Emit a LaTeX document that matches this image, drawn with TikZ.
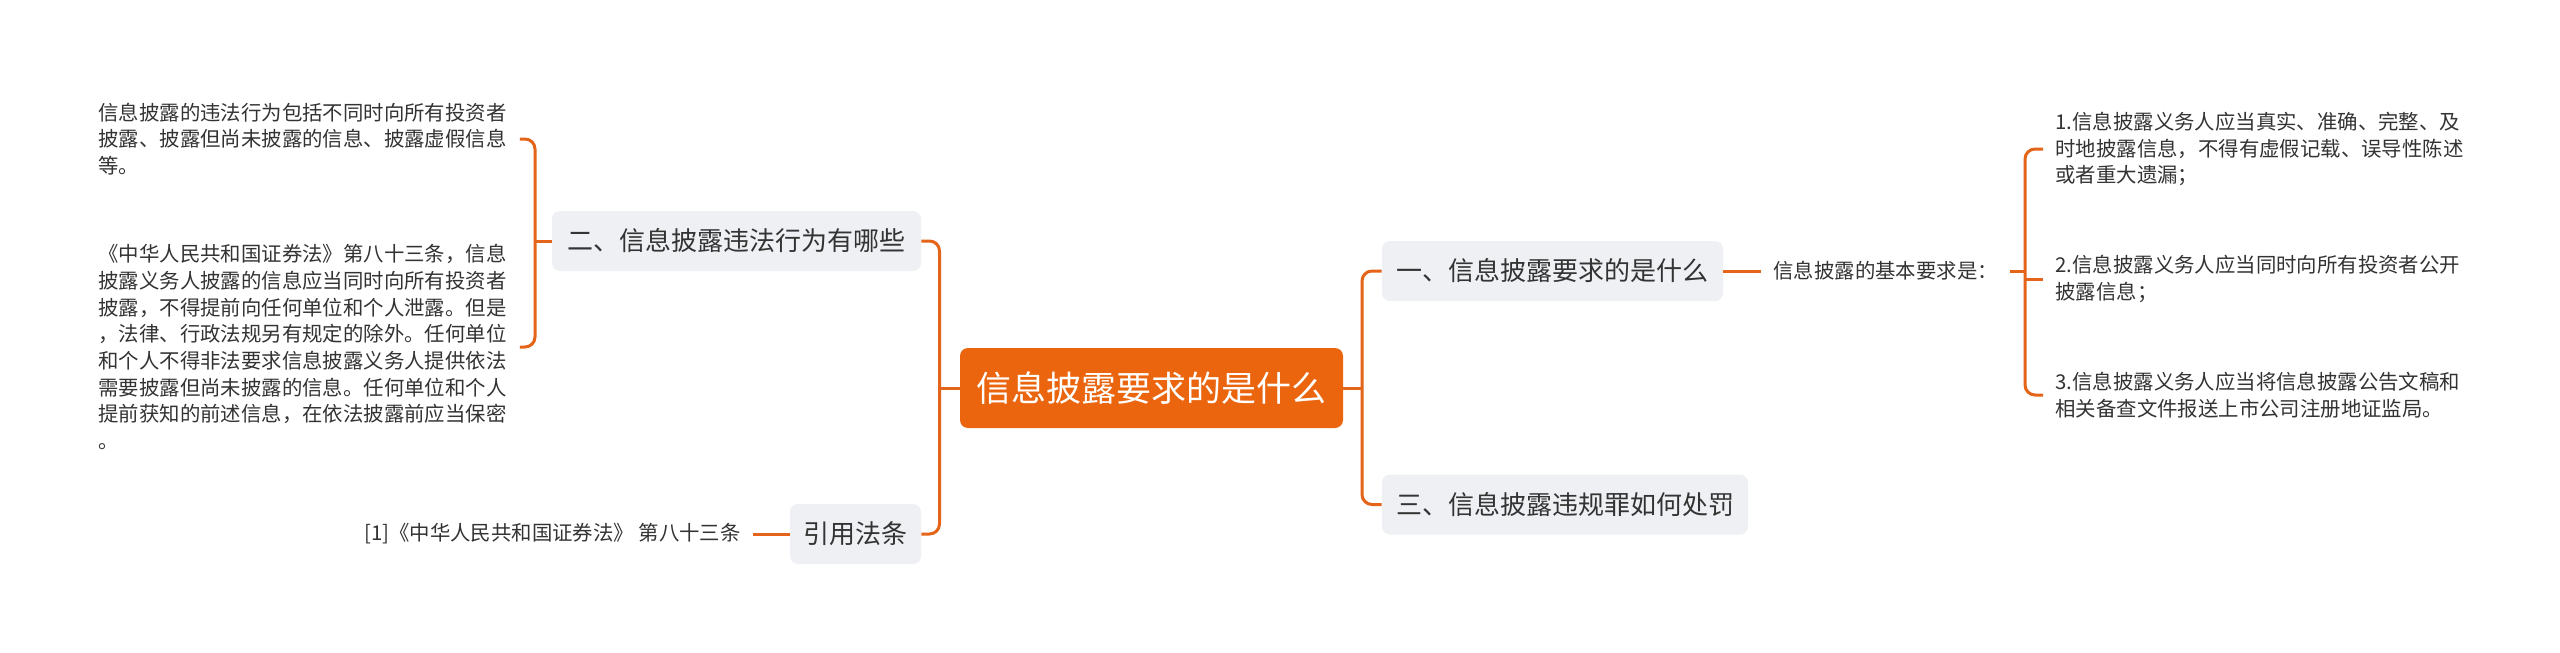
\documentclass[tikz,border=0pt]{standalone}
\usepackage{fontspec}
\setmainfont{Noto Sans CJK SC}
\definecolor{lineor}{HTML}{E4651A}
\definecolor{rootor}{HTML}{EA650E}
\definecolor{topicbg}{HTML}{EEF0F3}
\definecolor{txt}{HTML}{333333}
\begin{document}
\begin{tikzpicture}[x=0.5pt,y=-0.5pt,
  conn/.style={draw=lineor, line width=1.5pt},
  rc/.style={rounded corners=5pt},
  rootbox/.style={fill=rootor, rounded corners=4pt, text=white, font=\fontsize{17.5pt}{21pt}\selectfont, minimum height=40pt, inner sep=0pt},
  topic/.style={fill=topicbg, rounded corners=4pt, text=txt, font=\fontsize{13pt}{16pt}\selectfont, minimum height=30pt, inner sep=0pt},
  leaf/.style={text=txt, font=\fontsize{10.2pt}{13.35pt}\selectfont, inner xsep=6pt, inner ysep=0pt},
  para/.style={leaf, align=left, text width=204.5pt}]
\path[use as bounding box, fill=white] (0,0) rectangle (2560,653);

% root
\node[rootbox, minimum width=191.5pt] (c) at (1151.5,388) {信息披露要求的是什么};

% topics
\node[topic, minimum width=184.5pt] (n2) at (736.5,241) {二、信息披露违法行为有哪些};
\node[topic, minimum width=65.5pt] (ref) at (855.5,534) {引用法条};
\node[topic, minimum width=170.5pt] (n1) at (1552.5,271) {一、信息披露要求的是什么};
\node[topic, minimum width=183pt] (n3) at (1565,504.5) {三、信息披露违规罪如何处罚};

% left leaves
\node[para, anchor=west] (l1) at (86,139) {信息披露的违法行为包括不同时向所有投资者\\披露、披露但尚未披露的信息、披露虚假信息\\等。};
\node[para, anchor=west] (l2) at (86,347) {《中华人民共和国证券法》第八十三条，信息\\披露义务人披露的信息应当同时向所有投资者\\披露，不得提前向任何单位和个人泄露。但是\\，法律、行政法规另有规定的除外。任何单位\\和个人不得非法要求信息披露义务人提供依法\\需要披露但尚未披露的信息。任何单位和个人\\提前获知的前述信息，在依法披露前应当保密\\。};
\node[leaf, anchor=east] (lr) at (753,534) {[1]《中华人民共和国证券法》 第八十三条};

% right leaves
\node[leaf, anchor=west] (k) at (1761,271) {信息披露的基本要求是：};
\node[para, anchor=west] (r1) at (2043,149) {1.信息披露义务人应当真实、准确、完整、及\\时地披露信息，不得有虚假记载、误导性陈述\\或者重大遗漏；};
\node[para, anchor=west] (r2) at (2043,279) {2.信息披露义务人应当同时向所有投资者公开\\披露信息；};
\node[para, anchor=west] (r3) at (2043,395) {3.信息披露义务人应当将信息披露公告文稿和\\相关备查文件报送上市公司注册地证监局。};

% connectors: root
\coordinate (rsp) at (1362,388);
\coordinate (lsp) at (939.5,388);
\draw[conn] (c.east) -- (rsp);
\draw[conn, rc] (n1.west) -| (rsp) |- (n3.west);
\draw[conn] (c.west) -- (lsp);
\draw[conn, rc] (n2.east) -| (lsp) |- (ref.east);

% left topic connectors
\coordinate (lsp2) at (535,241);
\draw[conn] (n2.west) -- (lsp2);
\draw[conn, rc] (l1.east) -| (lsp2) |- (l2.east);
\draw[conn] (ref.west) -- (lr.east);

% right topic connectors
\draw[conn] (n1.east) -- (k.west);
\coordinate (rsp2) at (2025,271);
\draw[conn] (k.east) -- (rsp2);
\draw[conn, rc] (r1.west) -| (rsp2) |- (r3.west);
\draw[conn] (r2.west) -- (r2.west -| rsp2);
\end{tikzpicture}
\end{document}
